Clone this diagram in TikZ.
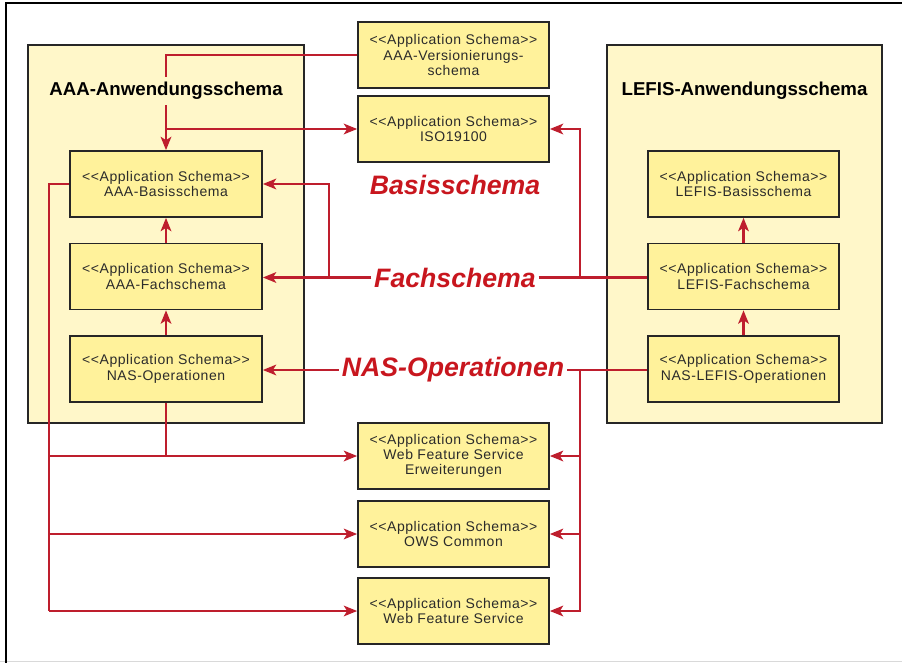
\documentclass[tikz,border=0pt]{standalone}
\usepackage{fontspec}
\setmainfont{Liberation Sans}
\newfontfamily\schemafont{Liberation Sans}[LetterSpace=4]
\usepackage{xcolor}
\definecolor{schemaFrame}{HTML}{FFF7C9}
\definecolor{schemaBox}{HTML}{FFF29B}
\definecolor{schemaLink}{HTML}{BE1E2D}
\definecolor{schemaText}{HTML}{2B2B2B}
\definecolor{schemaLabel}{HTML}{C8161E}
\usetikzlibrary{arrows.meta}

\begin{document}
\begin{tikzpicture}[x=0.75pt, y=-0.75pt,
  container/.style={draw=black!85, line width=1.5pt, fill=schemaFrame, minimum height=283.5pt},
  schemabox/.style={draw=black!85, line width=1.3pt, fill=schemaBox, minimum height=49.5pt, align=center, text=schemaText, font=\schemafont\fontsize{10.5}{11.5}\selectfont},
  schematitle/.style={fill=schemaFrame, font=\bfseries\fontsize{14}{16}\selectfont, inner ysep=4pt},
  schemalabel/.style={text=schemaLabel, font=\bfseries\itshape\fontsize{20}{24}\selectfont, inner sep=2pt},
  link/.style={schemaLink, line width=1.6pt},
  linkto/.style={link, -{Stealth[length=10pt, width=8pt, inset=2.5pt]}},
]
  \useasboundingbox (0,0) rectangle (902,663);
  \draw[black!15, line width=1.2pt] (0,661.5) -- (902,661.5);
  \draw[black, line width=1.5pt] (6,663) -- (6,3) -- (902,3);

  \node[container, minimum width=207pt] (aaa) at (166,234) {};
  \node[container, minimum width=206.25pt] (lefis) at (744.5,234) {};
  \node[schematitle] (aaatitle) at (166,91) {AAA-Anwendungsschema};
  \node[schematitle] (lefistitle) at (744.5,91) {LEFIS-Anwendungsschema};

  \node[schemabox, minimum width=144pt] (aaabasis) at (166,184) {<<Application Schema>>\\AAA-Basisschema};
  \node[schemabox, minimum width=144pt] (aaafach) at (166,276.5) {<<Application Schema>>\\AAA-Fachschema};
  \node[schemabox, minimum width=144pt] (aaanas) at (166,369) {<<Application Schema>>\\NAS-Operationen};

  \node[schemabox, minimum width=143.25pt] (lefisbasis) at (743.5,184) {<<Application Schema>>\\LEFIS-Basisschema};
  \node[schemabox, minimum width=143.25pt] (lefisfach) at (743.5,276.5) {<<Application Schema>>\\LEFIS-Fachschema};
  \node[schemabox, minimum width=143.25pt] (lefisnas) at (743.5,369) {<<Application Schema>>\\NAS-LEFIS-Operationen};

  \node[schemabox, minimum width=143.25pt] (vers) at (453.5,55) {<<Application Schema>>\\AAA-Versionierungs-\\schema};
  \node[schemabox, minimum width=143.25pt] (iso) at (453.5,129) {<<Application Schema>>\\ISO19100};
  \node[schemabox, minimum width=143.25pt] (wfse) at (453.5,456) {<<Application Schema>>\\Web Feature Service\\Erweiterungen};
  \node[schemabox, minimum width=143.25pt] (ows) at (453.5,534) {<<Application Schema>>\\OWS Common};
  \node[schemabox, minimum width=143.25pt] (wfs) at (453.5,611) {<<Application Schema>>\\Web Feature Service};

  \node[schemalabel] (basislabel) at (455,185) {Basisschema};
  \node[schemalabel] (fachlabel) at (455,277.5) {Fachschema};
  \node[schemalabel] (naslabel) at (453,370) {NAS-Operationen};

  \coordinate (fachleft) at (329,276.5);
  \coordinate (fachright) at (580,276.5);
  \coordinate (nasright) at (580,369);
  \coordinate (leftbus) at (49,611);

  \draw[link, line width=1.1pt] (vers.west) -| (aaatitle.north);
  \draw[linkto] (aaatitle.south) -- (aaabasis.north);
  \draw[linkto] (aaatitle.south |- iso.west) -- (iso.west);

  \draw[linkto] (aaafach.north) -- (aaabasis.south);
  \draw[linkto] (aaanas.north) -- (aaafach.south);
  \draw[linkto] (lefisfach.north) -- (lefisbasis.south);
  \draw[linkto] (lefisnas.north) -- (lefisfach.south);

  \draw[linkto] (fachlabel.west) -- (fachlabel.west -| aaafach.east);
  \draw[linkto] (fachleft) |- (aaabasis.east);
  \draw[link] (fachlabel.east) -- (fachlabel.east -| lefisfach.west);
  \draw[linkto] (fachright) |- (iso.east);

  \draw[linkto] (naslabel.west) -- (naslabel.west -| aaanas.east);
  \draw[link] (naslabel.east) -- (naslabel.east -| lefisnas.west);
  \draw[linkto] (nasright) |- (wfs.east);
  \draw[linkto] (nasright |- wfse.east) -- (wfse.east);
  \draw[linkto] (nasright |- ows.east) -- (ows.east);

  \draw[link] (aaabasis.west) -| (leftbus);
  \draw[linkto] (leftbus) -- (wfs.west);
  \draw[linkto] (leftbus |- wfse.west) -- (wfse.west);
  \draw[linkto] (leftbus |- ows.west) -- (ows.west);
  \draw[link] (aaanas.south) -- (aaanas.south |- wfse.west);
\end{tikzpicture}
\end{document}
